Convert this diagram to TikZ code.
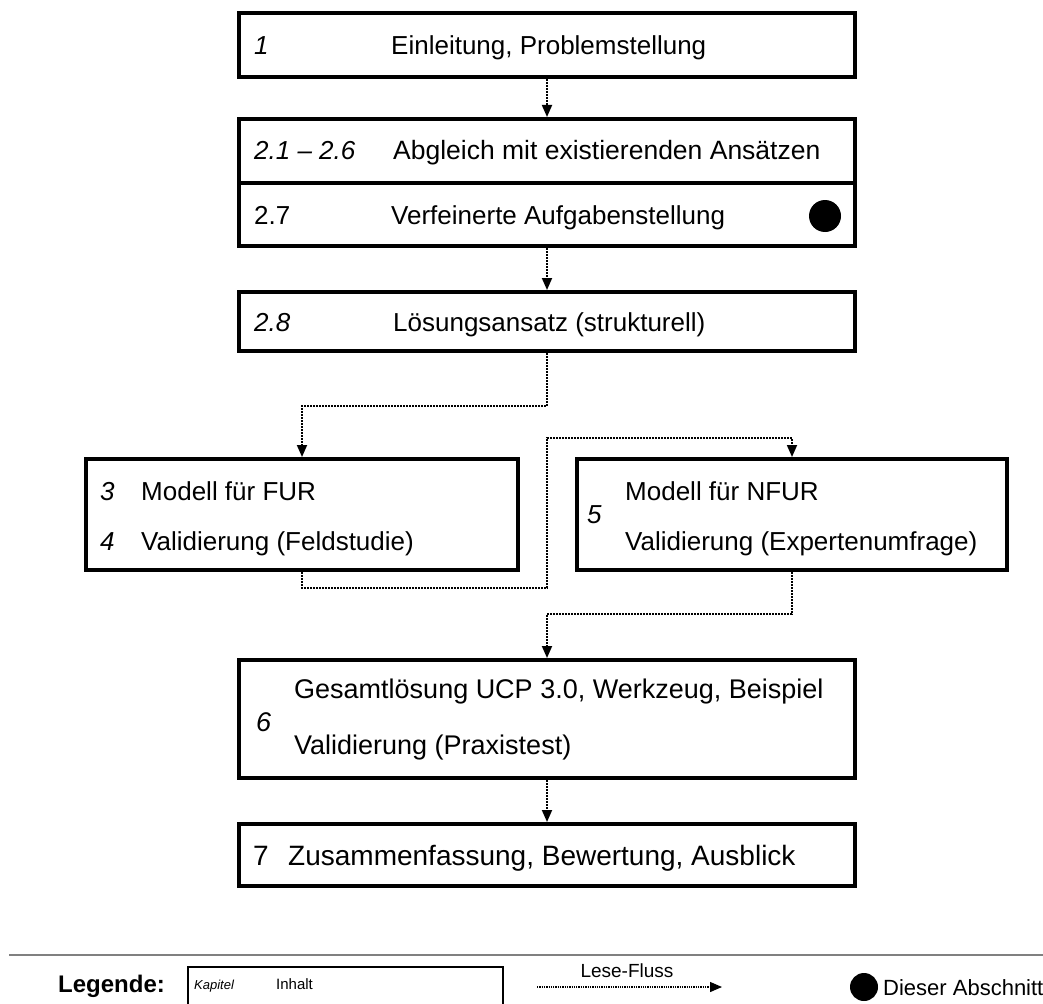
\documentclass[tikz,border=0pt]{standalone}
\usepackage{fontspec}
\setmainfont{Liberation Sans}
\usetikzlibrary{arrows.meta}
\begin{document}
\begin{tikzpicture}[x=1pt,y=-1pt,
  box/.style={draw=black, line width=4pt, rectangle, inner sep=0pt, anchor=north west},
  flow/.style={line width=1.8pt, dash pattern=on 1.8pt off 1.2pt, -{Triangle[length=12pt,width=10pt]}},
  txt/.style={anchor=base west, inner sep=0pt, font=\fontsize{26}{30}\selectfont},
  num/.style={anchor=base west, inner sep=0pt, font=\fontsize{26}{30}\selectfont\itshape},
  bigdot/.style={circle, fill=black, inner sep=0pt},
]
\path[use as bounding box, fill=white] (0,0) rectangle (1043,1003);

% boxes
\node[box, minimum width=616pt, minimum height=64pt] (b1) at (237,11) {};
\node[box, minimum width=616pt, minimum height=64pt] (b2a) at (237,117) {};
\node[box, minimum width=616pt, minimum height=63pt] (b2b) at (237,181) {};
\node[box, minimum width=616pt, minimum height=59pt] (b28) at (237,290) {};
\node[box, minimum width=432pt, minimum height=111pt] (fur) at (84,457) {};
\node[box, minimum width=430pt, minimum height=111pt] (nfur) at (575,457) {};
\node[box, minimum width=616pt, minimum height=118pt] (b6) at (237,658) {};
\node[box, minimum width=616pt, minimum height=62pt] (b7) at (237,822) {};

% texts
\node[num] (n1) at (254,54.5) {1};
\node[txt] (t1) at (391,54.5) {Einleitung, Problemstellung};
\node[num] (n21) at (254,159.5) {2.1 – 2.6};
\node[txt, font=\fontsize{26.5}{30}\selectfont] (t21) at (393,159.5) {Abgleich mit existierenden Ansätzen};
\node[txt] (n27) at (254,224.5) {2.7};
\node[txt] (t27) at (391,224.5) {Verfeinerte Aufgabenstellung};
\node[bigdot, minimum size=32pt] (dot) at (825,216) {};
\node[num] (n28) at (254,331.5) {2.8};
\node[txt] (t28) at (393,331.5) {Lösungsansatz (strukturell)};
\node[num] (n3) at (100,500.5) {3};
\node[txt] (t3) at (141,500.5) {Modell für FUR};
\node[num] (n4) at (100,550.5) {4};
\node[txt] (t4) at (141,550.5) {Validierung (Feldstudie)};
\node[num] (n5) at (587,523.5) {5};
\node[txt] (t5a) at (625,500.5) {Modell für NFUR};
\node[txt] (t5b) at (625,550.5) {Validierung (Expertenumfrage)};
\node[num, font=\fontsize{27}{30}\selectfont\itshape] (n6) at (256,731.5) {6};
\node[txt, font=\fontsize{27}{30}\selectfont] (t6a) at (294,698.5) {Gesamtlösung UCP 3.0, Werkzeug, Beispiel};
\node[txt, font=\fontsize{27}{30}\selectfont] (t6b) at (294,754.5) {Validierung (Praxistest)};
\node[txt, font=\fontsize{28}{32}\selectfont] (n7) at (253,865) {7};
\node[txt, font=\fontsize{28}{32}\selectfont] (t7) at (288,865) {Zusammenfassung, Bewertung, Ausblick};

% connectors
\coordinate (h1) at (547,406);
\coordinate (k1) at (547,588);
\coordinate (k2) at (547,438);
\coordinate (k3) at (547,614);
\draw[flow] (b1.south) -- (b2a.north);
\draw[flow] (b2b.south) -- (b28.north);
\draw[flow] (b28.south) -- (h1) -| (fur.north);
\draw[flow] (fur.south) |- (k1) -- (k2) -| (nfur.north);
\draw[flow] (nfur.south) |- (k3) -- (b6.north);
\draw[flow] (b6.south) -- (b7.north);

% legend
\draw[draw=gray, line width=2pt] (9,955) -- (1043,955);
\node[anchor=base west, inner sep=0pt, font=\fontsize{24}{28}\selectfont\bfseries] (lg) at (58,992) {Legende:};
\node[draw=black, line width=2pt, rectangle, inner sep=0pt, anchor=north west, minimum width=315pt, minimum height=60pt] (legbox) at (187,966) {};
\node[anchor=base west, inner sep=0pt, font=\fontsize{13}{16}\selectfont\itshape] (lk) at (194,989) {Kapitel};
\node[anchor=base west, inner sep=0pt, font=\fontsize{15}{18}\selectfont] (li) at (276,989) {Inhalt};
\node[anchor=base, inner sep=0pt, font=\fontsize{19}{22}\selectfont] (lf) at (627,977) {Lese-Fluss};
\coordinate (la) at (537,987);
\coordinate (lb) at (722,987);
\draw[flow, line width=1.3pt, dash pattern=on 1.3pt off 1pt] (la) -- (lb);
\node[bigdot, minimum size=28pt] (ld) at (864,987) {};
\node[anchor=base west, inner sep=0pt, font=\fontsize{22}{24}\selectfont] (lt) at (883,995) {Dieser Abschnitt};
\end{tikzpicture}
\end{document}
